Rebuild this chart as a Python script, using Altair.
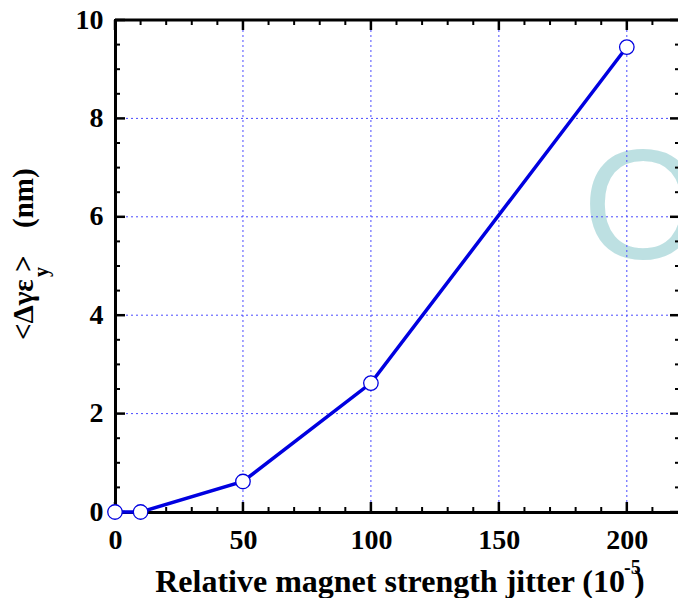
import altair as alt
import pandas as pd

# ---- data ----
jitter = [0, 10, 50, 100, 200]
emit_growth = [0.0, 0.0, 0.62, 2.62, 9.45]

x_major = [0, 50, 100, 150, 200]
x_minor = [10, 20, 30, 40, 60, 70, 80, 90, 110, 120, 130, 140, 160, 170, 180, 190, 210]
y_major = [0, 2, 4, 6, 8, 10]
y_minor = [0.5, 1, 1.5, 2.5, 3, 3.5, 4.5, 5, 5.5, 6.5, 7, 7.5, 8.5, 9, 9.5]
x_grid = [50, 100, 150, 200]
y_grid = [2, 4, 6, 8]

watermark_x = [206.3]
watermark_y = [5.16]
watermark_text = ["O"]

x_title_parts = ["Relative magnet strength jitter (10", "-5", ")"]
y_title_parts = ["<\u0394\u03b3\u03b5", "y", ">", "(nm)"]

W, H = 563, 492
FONT = "Liberation Serif"
BLUE = "#0000e0"

xscale = alt.Scale(domain=[0, 220], nice=False, zero=False)
yscale = alt.Scale(domain=[0, 10], nice=False, zero=False)

xaxis = alt.Axis(values=x_major, format="d", title=None, grid=False, ticks=False,
                 domainColor="black", domainWidth=3, domainCap="square",
                 labelFont=FONT, labelFontSize=28, labelFontWeight="bold",
                 labelColor="black", labelPadding=14, labelFlush=False)
yaxis = alt.Axis(values=y_major, format="d", title=None, grid=False, ticks=False,
                 domainColor="black", domainWidth=3, domainCap="square",
                 labelFont=FONT, labelFontSize=28, labelFontWeight="bold",
                 labelColor="black", labelPadding=12, labelFlush=False)

def X(f="x"):
    return alt.X(f"{f}:Q", scale=xscale, axis=xaxis)

def Y(f="y"):
    return alt.Y(f"{f}:Q", scale=yscale, axis=yaxis)

df = pd.DataFrame({"x": jitter, "y": emit_growth})

wm = alt.Chart(pd.DataFrame({"x": watermark_x, "y": watermark_y, "t": watermark_text})).mark_text(
    font="Liberation Sans", fontSize=155, color="#bde0e2",
    align="center", baseline="alphabetic"
).encode(x=X(), y=Y(), text="t:N")

gx = alt.Chart(pd.DataFrame({"x": x_grid})).mark_rule(
    color="#4a4aff", strokeWidth=1, strokeDash=[2, 3]).encode(x=X())
gy = alt.Chart(pd.DataFrame({"y": y_grid})).mark_rule(
    color="#4a4aff", strokeWidth=1, strokeDash=[2, 3]).encode(y=Y())

def xticks(vals, y0, y1, w):
    return alt.Chart(pd.DataFrame({"x": vals})).mark_rule(color="black", strokeWidth=w).encode(
        x=X(), y=alt.value(y0), y2=alt.value(y1))

def yticks(vals, x0, x1, w):
    return alt.Chart(pd.DataFrame({"y": vals})).mark_rule(color="black", strokeWidth=w).encode(
        y=Y(), x=alt.value(x0), x2=alt.value(x1))

ticks = [
    xticks(x_major, H - 10, H, 2.5), xticks(x_minor, H - 5, H, 2),
    xticks(x_major, 0, 10, 2.5), xticks(x_minor, 0, 5, 2),
    yticks(y_major, 0, 10, 2.5), yticks(y_minor, 0, 5, 2),
    yticks(y_major, W - 8, W, 2.5), yticks(y_minor, W - 3, W, 2),
]

top_border = alt.Chart(pd.DataFrame({"x": [0]})).mark_rule(color="black", strokeWidth=3).encode(
    x=alt.value(0), x2=alt.value(W), y=alt.value(0))

line = alt.Chart(df).mark_line(color=BLUE, strokeWidth=3.5).encode(x=X(), y=Y())
pts = alt.Chart(df).mark_point(filled=True, fill="white", stroke=BLUE, strokeWidth=1.3,
                               size=210, opacity=1).encode(x=X(), y=Y())

def txt(s, x, y, size, align, angle=0):
    return alt.Chart(pd.DataFrame({"t": [s]})).mark_text(
        font=FONT, fontSize=size, fontWeight="bold", color="black", align=align,
        baseline="alphabetic", angle=angle
    ).encode(text="t:N", x=alt.value(x), y=alt.value(y))

titles = [
    txt(x_title_parts[0], 510, 572, 32, "right"),
    txt(x_title_parts[1], 509, 554, 20, "left"),
    txt(x_title_parts[2], 519, 572, 32, "left"),
    txt(y_title_parts[0], -82, 320, 29, "left", 270),
    txt(y_title_parts[1], -67, 257, 20, "left", 270),
    txt(y_title_parts[2], -82, 252, 29, "left", 270),
    txt(y_title_parts[3], -82, 208, 29, "left", 270),
]

chart = alt.layer(wm, gx, gy, *ticks, top_border, line, pts, *titles).properties(
    width=W, height=H,
    autosize=alt.AutoSizeParams(type="none"),
    padding={"left": 115, "top": 20, "right": 0, "bottom": 86},
    background="white",
).configure_view(stroke=None)

chart.save("out.html", embed_options={"renderer": "svg", "actions": False})
